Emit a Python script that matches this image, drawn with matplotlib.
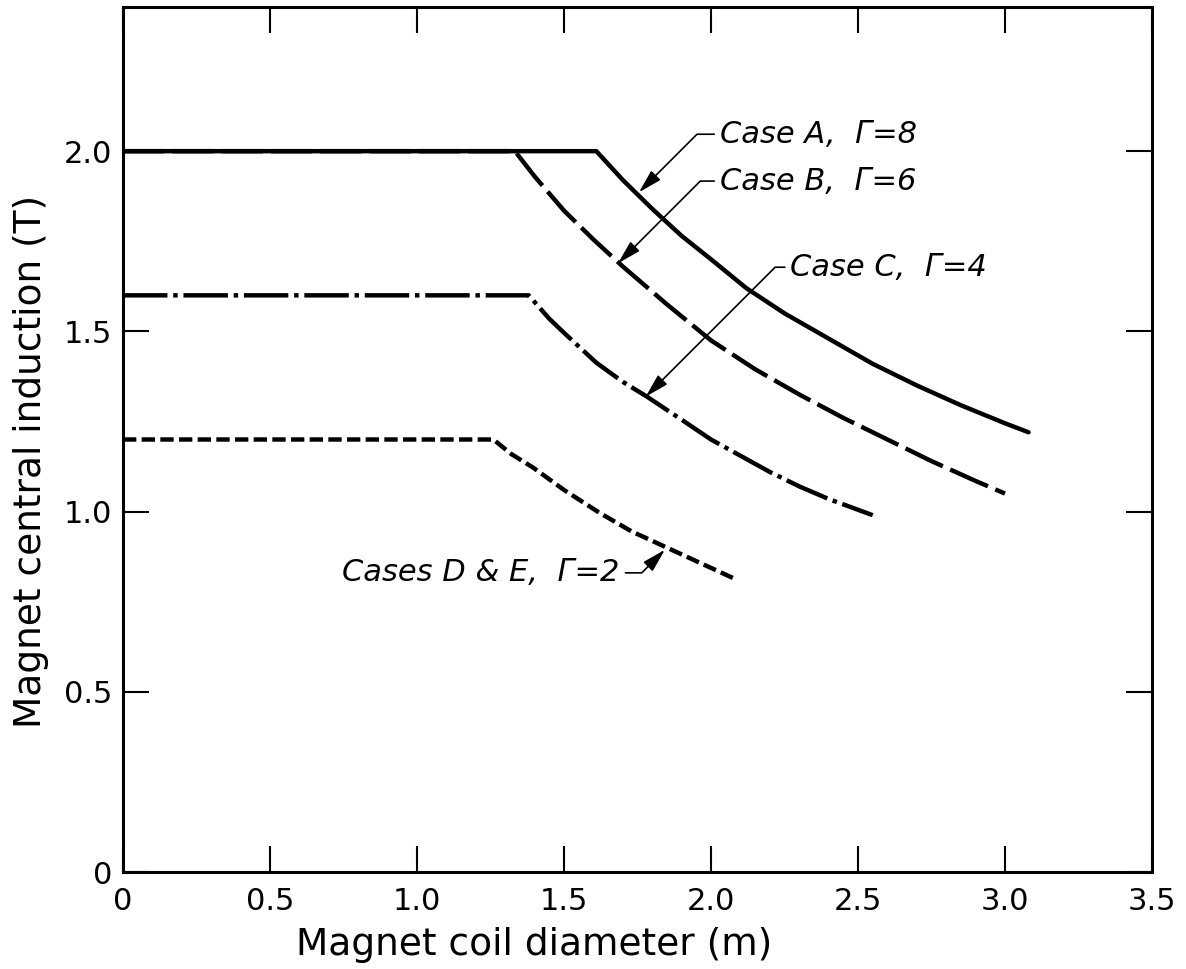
import matplotlib.pyplot as plt

# Case A, gamma = 8 (solid)
a_x = [0.0, 1.61, 1.70, 1.80, 1.90, 2.0, 2.12, 2.25, 2.40, 2.55, 2.70, 2.85, 3.0, 3.08]
a_y = [2.0, 2.0, 1.92, 1.84, 1.765, 1.70, 1.62, 1.55, 1.48, 1.41, 1.35, 1.295, 1.245, 1.22]

# Case B, gamma = 6 (long dashes)
b_x = [0.0, 1.333, 1.40, 1.50, 1.60, 1.70, 1.85, 2.0, 2.15, 2.30, 2.45, 2.60, 2.75, 2.90, 3.0]
b_y = [2.0, 2.0, 1.93, 1.835, 1.755, 1.68, 1.575, 1.475, 1.395, 1.325, 1.26, 1.20, 1.14, 1.085, 1.05]

# Case C, gamma = 4 (dash-dot)
c_x = [0.0, 1.38, 1.45, 1.50, 1.61, 1.70, 1.78, 1.90, 2.0, 2.1, 2.2, 2.3, 2.4, 2.55]
c_y = [1.6, 1.6, 1.535, 1.496, 1.413, 1.36, 1.32, 1.255, 1.20, 1.155, 1.11, 1.07, 1.035, 0.99]

# Cases D & E, gamma = 2 (short dashes)
d_x = [0.0, 1.26, 1.32, 1.395, 1.50, 1.62, 1.73, 1.85, 1.97, 2.09]
d_y = [1.2, 1.2, 1.16, 1.122, 1.06, 0.997, 0.945, 0.90, 0.855, 0.81]

x_ticks = [0, 0.5, 1.0, 1.5, 2.0, 2.5, 3.0, 3.5]
x_labels = ['0', '0.5', '1.0', '1.5', '2.0', '2.5', '3.0', '3.5']
y_ticks = [0, 0.5, 1.0, 1.5, 2.0]
y_labels = ['0', '0.5', '1.0', '1.5', '2.0']

fig = plt.figure(figsize=(11.86, 9.69), dpi=100)
ax = fig.add_axes([123 / 1186, 97 / 969, 1029 / 1186, 865 / 969])

lw = 3.2
ax.plot(a_x, a_y, color='black', lw=lw, solid_capstyle='round', solid_joinstyle='round')
ax.plot(b_x, b_y, color='black', lw=lw, dashes=(9.3, 1.8))
ax.plot(c_x, c_y, color='black', lw=lw, dashes=(10, 1.3, 1.0, 1.3))
ax.plot(d_x, d_y, color='black', lw=lw, dashes=(3.0, 1.2))

ax.set_xlim(0, 3.5)
ax.set_ylim(0, 2.4)
ax.set_xticks(x_ticks)
ax.set_xticklabels(x_labels)
ax.set_yticks(y_ticks)
ax.set_yticklabels(y_labels)
ax.tick_params(direction='in', length=19, width=1.5, top=True, right=True,
               left=True, bottom=True, labelsize=22, pad=8)
ax.tick_params(axis='x', pad=11)
for s in ax.spines.values():
    s.set_linewidth(2.2)

# annotations with hooked leader lines
arrow = dict(arrowstyle='-|>,head_length=0.8,head_width=0.22', color='black',
             lw=1.2, mutation_scale=18, shrinkA=2, shrinkB=0)
notes = [
    ('Case A,  Γ=8', (1.755, 1.886), (2.03, 2.047), 'left'),
    ('Case B,  Γ=6', (1.684, 1.689), (2.03, 1.917), 'left'),
    ('Case C,  Γ=4', (1.778, 1.319), (2.27, 1.678), 'left'),
    ('Cases D & E,  Γ=2', (1.843, 0.894), (1.69, 0.83), 'right'),
]
for txt, tip, pos, ha in notes:
    props = dict(arrow)
    props['relpos'] = (0, 0.5) if ha == 'left' else (1, 0.5)
    props['connectionstyle'] = 'angle,angleA=0,angleB=45,rad=0'
    ax.annotate(txt, xy=tip, xytext=pos, ha=ha, va='center', fontsize=22,
                fontstyle='italic', arrowprops=props)

fig.text(534 / 1186, 1 - 945 / 969, 'Magnet coil diameter (m)', ha='center',
         va='center', fontsize=27)
fig.text(31 / 1186, 1 - 461 / 969, 'Magnet central induction (T)', ha='center',
         va='center', rotation=90, fontsize=27)

fig.savefig('out.png', dpi=100)
